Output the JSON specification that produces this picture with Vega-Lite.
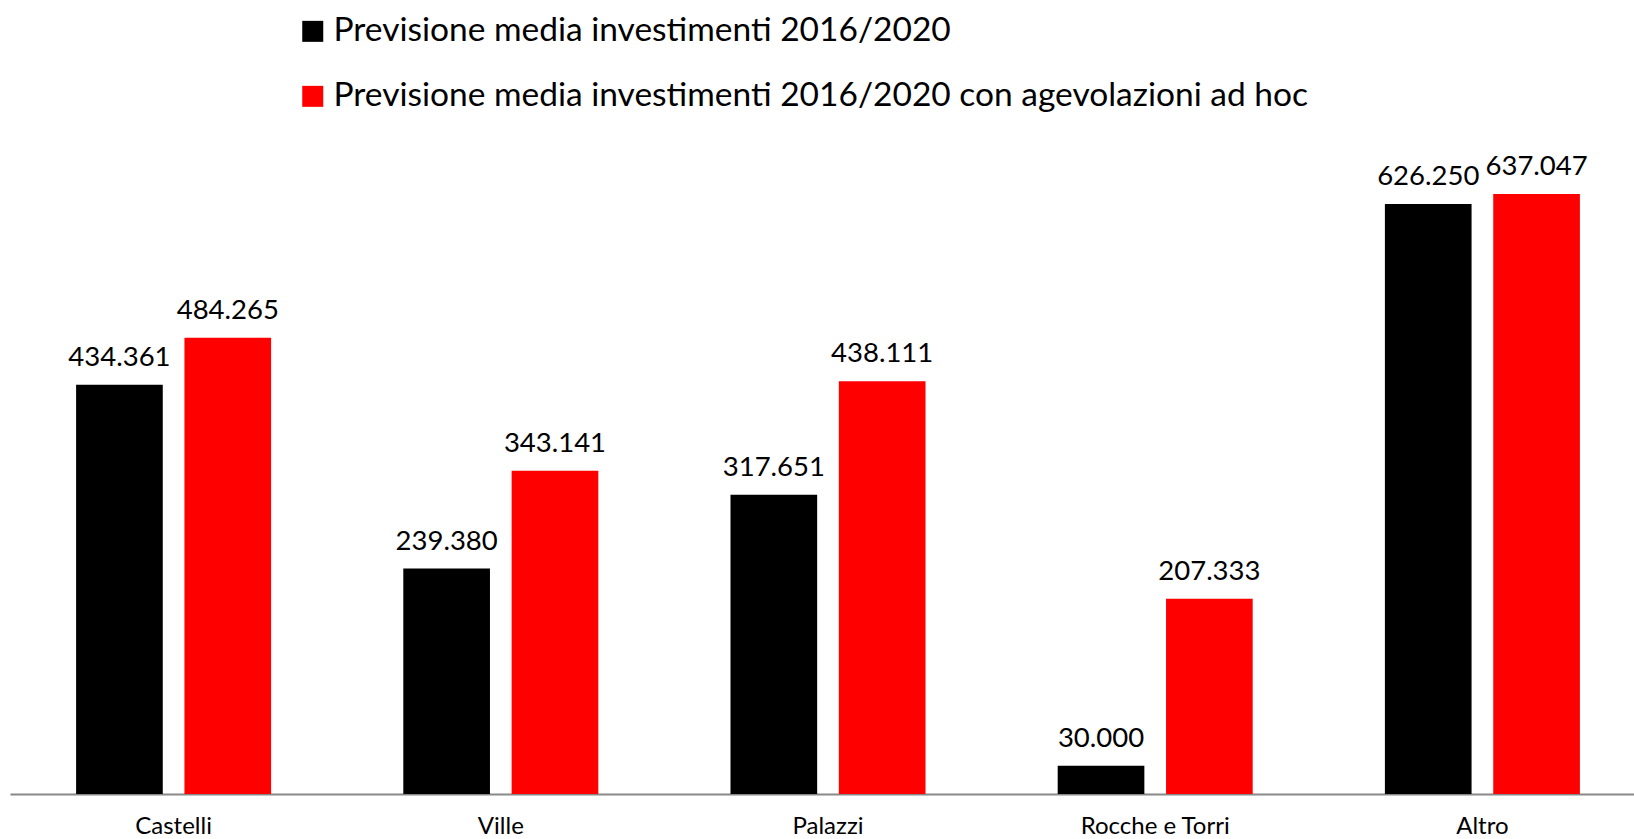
{
  "$schema": "https://vega.github.io/schema/vega-lite/v6.json",
  "width": 1636,
  "height": 659.4,
  "autosize": {"type": "none"},
  "padding": {"left": 10, "top": 134.6, "right": 0, "bottom": 45},
  "background": "white",
  "config": {
    "view": {"stroke": null},
    "font": "Lato",
    "locale": {"number": {"decimal": ",", "thousands": ".", "grouping": [3], "currency": ["€", ""]}}
  },
  "data": {"values": [
    {"categoria": "Castelli", "serie": "Previsione media investimenti 2016/2020", "valore": 434361},
    {"categoria": "Castelli", "serie": "Previsione media investimenti 2016/2020 con agevolazioni ad hoc", "valore": 484265},
    {"categoria": "Ville", "serie": "Previsione media investimenti 2016/2020", "valore": 239380},
    {"categoria": "Ville", "serie": "Previsione media investimenti 2016/2020 con agevolazioni ad hoc", "valore": 343141},
    {"categoria": "Palazzi", "serie": "Previsione media investimenti 2016/2020", "valore": 317651},
    {"categoria": "Palazzi", "serie": "Previsione media investimenti 2016/2020 con agevolazioni ad hoc", "valore": 438111},
    {"categoria": "Rocche e Torri", "serie": "Previsione media investimenti 2016/2020", "valore": 30000},
    {"categoria": "Rocche e Torri", "serie": "Previsione media investimenti 2016/2020 con agevolazioni ad hoc", "valore": 207333},
    {"categoria": "Altro", "serie": "Previsione media investimenti 2016/2020", "valore": 626250},
    {"categoria": "Altro", "serie": "Previsione media investimenti 2016/2020 con agevolazioni ad hoc", "valore": 637047}
  ]},
  "encoding": {
    "x": {
      "field": "categoria", "type": "nominal", "sort": null,
      "scale": {"paddingInner": 0.404, "paddingOuter": 0.202},
      "axis": {"title": null, "labelAngle": 0, "ticks": false, "domainColor": "#888888", "domainWidth": 2, "labelFontSize": 24, "labelColor": "black", "labelPadding": 20, "labelFont": "Lato"}
    },
    "xOffset": {"field": "serie", "type": "nominal", "scale": {"paddingInner": 0.2}},
    "y": {"field": "valore", "type": "quantitative", "scale": {"domain": [0, 700000]}, "axis": null}
  },
  "layer": [
    {
      "mark": {"type": "bar"},
      "encoding": {
        "color": {
          "field": "serie", "type": "nominal",
          "scale": {"range": ["#000000", "#ff0000"]},
          "legend": {
            "title": null, "orient": "none", "legendX": 286, "legendY": -120,
            "symbolType": "square", "symbolSize": 441, "symbolStrokeWidth": 0,
            "labelFontSize": 33.5, "labelFont": "Lato", "labelColor": "black",
            "labelLimit": 2000, "rowPadding": 30, "labelOffset": 4
          }
        }
      }
    },
    {
      "mark": {"type": "text", "baseline": "bottom", "dy": -13, "fontSize": 27.5, "font": "Lato", "color": "black"},
      "encoding": {"text": {"field": "valore", "type": "quantitative", "format": ",d"}}
    }
  ]
}
